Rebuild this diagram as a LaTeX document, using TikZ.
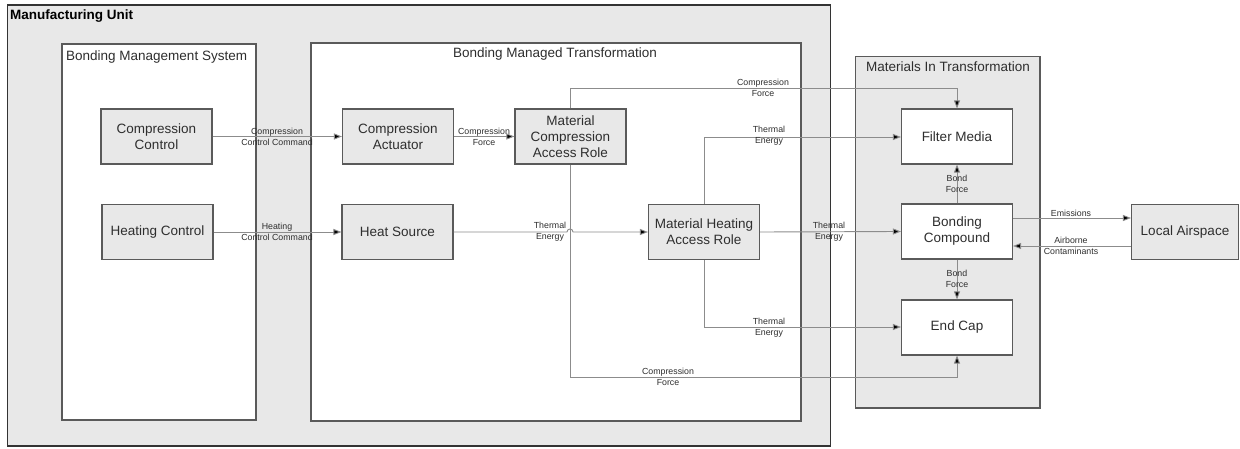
\documentclass[tikz,border=0pt]{standalone}
\usepackage{fontspec}
\setmainfont{Liberation Sans}
\usetikzlibrary{arrows.meta}
\definecolor{panel}{HTML}{E8E8E8}
\definecolor{edge}{HTML}{5A5A5A}
\definecolor{wire}{HTML}{8C8C8C}
\definecolor{ink}{HTML}{2E2E2E}
\begin{document}
\begin{tikzpicture}[x=1pt,y=-1pt,
  block/.style={draw=edge,line width=1.1pt,fill=panel,minimum width=111pt,minimum height=55pt,
    align=center,inner sep=2pt,text=ink,font=\fontsize{13.5}{16}\selectfont},
  matbox/.style={block,fill=white},
  frame/.style={draw=edge,line width=1.1pt},
  conn/.style={draw=wire,line width=0.9pt,-{Triangle[length=8pt,width=6pt,fill=black]}},
  lbl/.style={align=center,inner sep=0pt,text=ink,font=\fontsize{8.8}{11}\selectfont},
  title/.style={inner sep=0pt,text=ink,font=\fontsize{13.5}{16}\selectfont}]
\useasboundingbox (0,0) rectangle (1240,449);

% containers
\draw[frame,draw=black!80,fill=panel] (7.5,5) rectangle (830.5,446);
\draw[frame,fill=white] (62,44) rectangle (256,420);
\draw[frame,fill=white] (311,43) rectangle (801,421);
\draw[frame,fill=panel] (855.5,56.5) rectangle (1040,408);

\node[title,anchor=west,font=\fontsize{13.5}{16}\selectfont\bfseries,text=black] (tmu) at (10,16) {Manufacturing Unit};
\node[title,anchor=west] (tbms) at (66,57) {Bonding Management System};
\node[title] (tbmt) at (555,54) {Bonding Managed Transformation};
\node[title] (tmit) at (948,67) {Materials In Transformation};

% blocks
\node[block] (cc) at (156.5,136.5) {Compression\\Control};
\node[block] (hc) at (157.5,232) {Heating Control};
\node[block] (ca) at (398,136.5) {Compression\\Actuator};
\node[block] (mcar) at (570.5,136.5) {Material\\Compression\\Access Role};
\node[block] (hs) at (397.5,232) {Heat Source};
\node[block] (mhar) at (704,232) {Material Heating\\Access Role};
\node[matbox] (fm) at (957,136.5) {Filter Media};
\node[matbox] (bc) at (957,231.5) {Bonding\\Compound};
\node[matbox] (ec) at (957,327.5) {End Cap};
\node[block,minimum width=107pt] (la) at (1185,232) {Local Airspace};

% routing levels
\coordinate (yTop) at (0,88);
\coordinate (yThermA) at (0,137);
\coordinate (yThermB) at (0,327);
\coordinate (yBot) at (0,377);
\coordinate (jumpL) at (567,232);
\coordinate (jumpR) at (573,232);

% connectors
\draw[conn] (cc.east) -- (ca.west);
\draw[conn] (hc.east) -- (hs.west);
\draw[conn] (ca.east) -- (mcar.west);
\draw[conn] (hs.east) -- (jumpL) .. controls (567,228) and (573,228) .. (jumpR) -- (mhar.west);
\draw[conn] (mcar.north) -- (mcar.north |- yTop) -| (fm.north);
\draw[conn] (mcar.south) -- (mcar.south |- yBot) -| (ec.south);
\draw[conn] (mhar.north) -- (mhar.north |- yThermA) -- (fm.west |- yThermA);
\draw[conn] (mhar.east) -- (bc.west);
\draw[conn] (mhar.south) -- (mhar.south |- yThermB) -- (ec.west |- yThermB);
\draw[conn] (bc.north) -- (fm.south);
\draw[conn] (bc.south) -- (ec.north);
\draw[conn] ([yshift=13.5pt]bc.east) -- ([yshift=14pt]la.west);
\draw[conn] ([yshift=-14pt]la.west) -- ([yshift=-14.5pt]bc.east);

% connector labels
\node[lbl] (l1) at (277,136.5) {Compression\\Control Command};
\node[lbl] (l2) at (277,232) {Heating\\Control Command};
\node[lbl] (l3) at (484,136.5) {Compression\\Force};
\node[lbl] (l4) at (550,231.5) {Thermal\\Energy};
\node[lbl] (l5) at (763,87.5) {Compression\\Force};
\node[lbl] (l6) at (769,136) {Thermal\\Energy};
\node[lbl] (l7) at (829,231.5) {Thermal\\Energy};
\node[lbl] (l8) at (769,327.5) {Thermal\\Energy};
\node[lbl] (l9) at (668,376.5) {Compression\\Force};
\node[lbl] (l10) at (957,183.5) {Bond\\Force};
\node[lbl] (l11) at (957,279) {Bond\\Force};
\node[lbl] (l12) at (1071,213) {Emissions};
\node[lbl] (l13) at (1071,245.5) {Airborne\\Contaminants};
\end{tikzpicture}
\end{document}
